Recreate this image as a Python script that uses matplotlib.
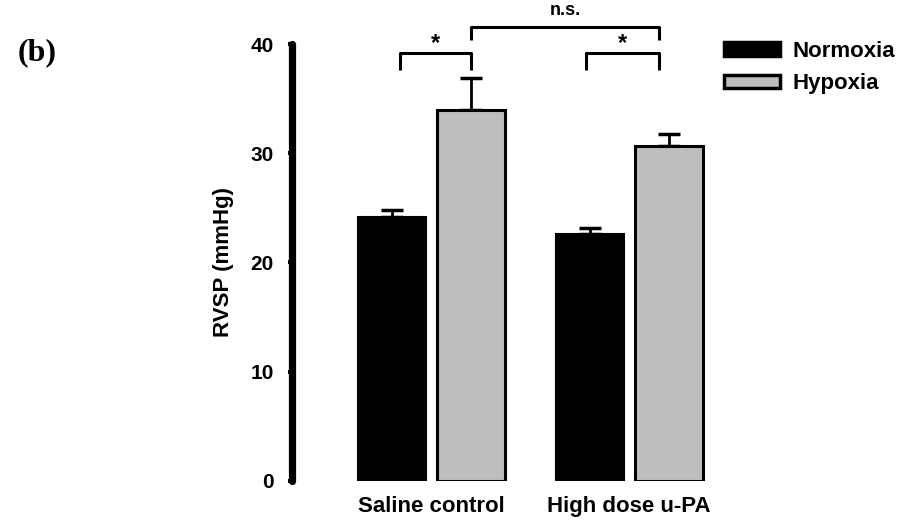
import matplotlib
matplotlib.use("Agg")
import matplotlib.pyplot as plt
import numpy as np

groups = ["Saline control", "High dose u-PA"]
normoxia = [24.2, 22.6]
normoxia_err = [0.6, 0.6]
hypoxia = [34.0, 30.7]
hypoxia_err = [2.9, 1.1]
yticks = [0, 10, 20, 30, 40]

plt.rcParams["font.family"] = ["Liberation Sans", "DejaVu Sans"]
plt.rcParams["font.weight"] = "bold"

fig = plt.figure(figsize=(9.03, 5.27), dpi=100)
ax = fig.add_axes([0.3234, 0.0873, 0.474, 0.8292])

x = np.arange(len(groups))
off = 0.2
w = 0.345
gray = "#bebebe"

ax.bar(x - off, normoxia, w, color="black", edgecolor="black", linewidth=1.5, label="Normoxia", zorder=2)
ax.bar(x + off, hypoxia, w, color=gray, edgecolor="black", linewidth=2.2, label="Hypoxia", zorder=2)
ax.errorbar(x - off, normoxia, yerr=[np.zeros(2), normoxia_err], fmt="none", ecolor="black",
            elinewidth=2, capsize=8, capthick=2.5, zorder=1)
ax.errorbar(x + off, hypoxia, yerr=[np.zeros(2), hypoxia_err], fmt="none", ecolor="black",
            elinewidth=2, capsize=8, capthick=2.5, zorder=1)

ax.set_xlim(-0.706, 1.46)
ax.set_ylim(0, 40)
ax.set_yticks(yticks)
ax.set_xticks(x)
ax.set_xticklabels(groups, fontsize=16, fontweight="bold")
ax.tick_params(axis="x", length=0, pad=11)
ax.tick_params(axis="y", labelsize=15, length=3, width=3, pad=10)
for lab in ax.get_yticklabels():
    lab.set_fontweight("bold")
ax.set_ylabel("RVSP (mmHg)", fontsize=16, fontweight="bold", labelpad=12)

for s in ["top", "right", "bottom"]:
    ax.spines[s].set_visible(False)
ax.spines["left"].set_linewidth(5.2)
ax.spines["left"].set_capstyle("round")

# significance brackets
def bracket(x1, x2, y, h, text, ty, fs):
    ax.plot([x1, x1, x2, x2], [y - h, y, y, y - h], color="black", lw=2.2, clip_on=False,
            solid_capstyle="butt")
    ax.text((x1 + x2) / 2, ty, text, ha="center", va="center", fontsize=fs, fontweight="bold")

bracket(-0.16, 0.2, 39.2, 1.6, "*", 40.0, 17)
bracket(0.78, 1.15, 39.2, 1.6, "*", 40.0, 17)
bracket(0.2, 1.15, 41.6, 1.2, "n.s.", 43.1, 13)

leg = ax.legend(loc="upper left", bbox_to_anchor=(0.962, 1.053), frameon=False, fontsize=16,
                handlelength=2.55, handleheight=0.55, labelspacing=0.52, handletextpad=0.55)
for t in leg.get_texts():
    t.set_fontweight("bold")
for p in leg.get_patches():
    p.set_linewidth(2.5)

fig.text(0.02, 0.885, "(b)", fontsize=23, fontweight="bold", family="Liberation Serif")

fig.savefig("out.png", dpi=100)
